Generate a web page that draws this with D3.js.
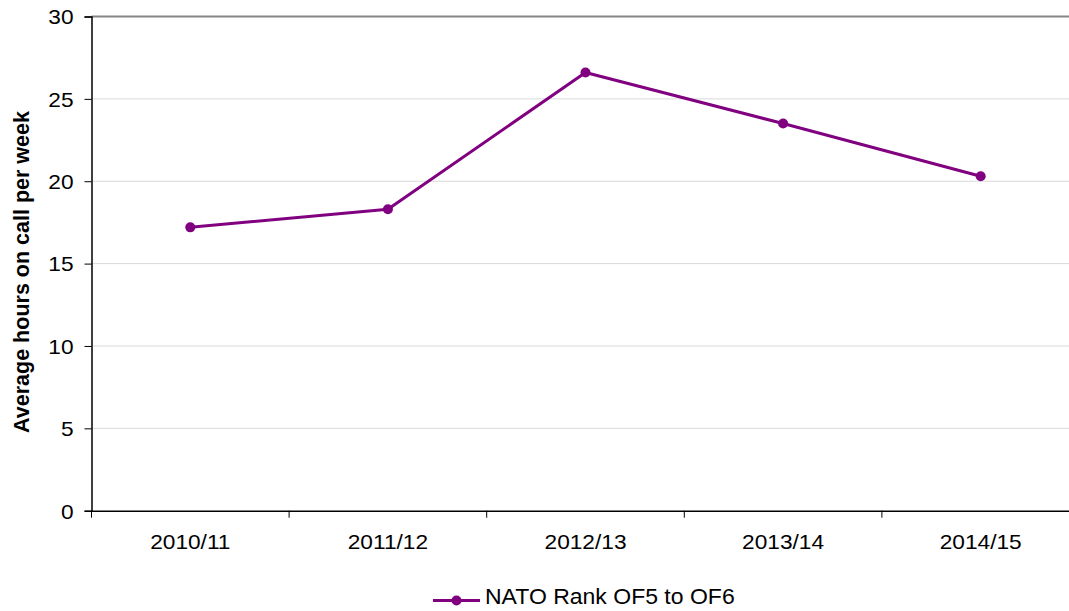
<!DOCTYPE html>
<html>
<head>
<meta charset="utf-8">
<script src="https://cdn.jsdelivr.net/npm/d3@7"></script>
<style>
  html, body { margin: 0; padding: 0; background: #fff; }
  svg { display: block; font-family: "Liberation Sans", Arial, sans-serif; }
</style>
</head>
<body>
<svg id="chart" width="1069" height="611"></svg>
<script>
// Average hours on call per week, NATO rank OF5 to OF6
const years = ["2010/11", "2011/12", "2012/13", "2013/14", "2014/15"];
const hours = [17.2, 18.3, 26.6, 23.5, 20.3];
const yTicks = [0, 5, 10, 15, 20, 25, 30];
const seriesName = "NATO Rank OF5 to OF6";
const yTitle = "Average hours on call per week";

const svg = d3.select("#chart");
const W = 1069;
const plotLeft = 91.5, plotTop = 16.5, plotBottom = 510.7, plotRight = 1079.5;
const purple = "#800080";
const widen = 1.08; // horizontal text stretch

// stretch a text element horizontally while keeping its anchor
function stretch(sel) {
  sel.each(function () {
    const len = this.getComputedTextLength();
    d3.select(this)
      .attr("textLength", len * widen)
      .attr("lengthAdjust", "spacingAndGlyphs");
  });
}

const x = d3.scaleBand().domain(years).range([plotLeft, plotRight]).padding(0);
const y = d3.scaleLinear().domain([0, 30]).range([plotBottom, plotTop]);

// horizontal gridlines
svg.append("g").selectAll("line")
  .data(yTicks.filter(t => t > 0))
  .join("line")
  .attr("x1", plotLeft).attr("x2", W)
  .attr("y1", d => y(d)).attr("y2", d => y(d))
  .attr("stroke", d => d === 30 ? "#868686" : "#d9d9d9")
  .attr("stroke-width", d => d === 30 ? 2 : 1);

// y axis
const yAxis = svg.append("g")
  .attr("transform", `translate(${plotLeft},0)`)
  .call(d3.axisLeft(y).tickValues(yTicks).tickSize(7).tickPadding(11).tickFormat(d3.format("d")));
yAxis.select(".domain").attr("stroke", "#000").attr("stroke-width", 1.5);
yAxis.selectAll(".tick line").attr("stroke", "#000");
yAxis.selectAll(".tick text")
  .attr("font-size", 21).attr("fill", "#000")
  .attr("font-family", "Liberation Sans, Arial, sans-serif")
  .attr("dy", "0.35em")
  .call(stretch);

// x axis with ticks at category boundaries
const xAxis = svg.append("g")
  .attr("transform", `translate(0,${plotBottom})`)
  .call(d3.axisBottom(x).tickSize(0).tickPadding(23));
xAxis.select(".domain").attr("stroke", "#000").attr("stroke-width", 1.5);
xAxis.selectAll(".tick text")
  .attr("font-size", 21).attr("fill", "#000")
  .attr("font-family", "Liberation Sans, Arial, sans-serif")
  .call(stretch);
const bounds = years.map(d => x(d)).concat([plotRight]);
xAxis.selectAll(".bound")
  .data(bounds)
  .join("line")
  .attr("class", "bound")
  .attr("x1", d => d).attr("x2", d => d)
  .attr("y1", 0).attr("y2", 7)
  .attr("stroke", "#000");

// y axis title
svg.append("text")
  .attr("transform", `translate(29,272) rotate(-90)`)
  .attr("text-anchor", "middle")
  .attr("font-size", 21.5)
  .attr("font-weight", "bold")
  .attr("fill", "#000")
  .text(yTitle);

// series line and markers
const cx = d => x(d) + x.bandwidth() / 2;
const line = d3.line()
  .x((d, i) => cx(years[i]))
  .y(d => y(d));
svg.append("path")
  .datum(hours)
  .attr("d", line)
  .attr("fill", "none")
  .attr("stroke", purple)
  .attr("stroke-width", 3)
  .attr("stroke-linejoin", "round");
svg.append("g").selectAll("circle")
  .data(hours)
  .join("circle")
  .attr("cx", (d, i) => cx(years[i]))
  .attr("cy", d => y(d))
  .attr("r", 5)
  .attr("fill", purple);

// legend
const lg = svg.append("g").attr("transform", "translate(433,600.5)");
lg.append("line").attr("x1", 0).attr("x2", 47).attr("y1", 0).attr("y2", 0)
  .attr("stroke", purple).attr("stroke-width", 3);
lg.append("circle").attr("cx", 23.5).attr("cy", 0).attr("r", 5).attr("fill", purple);
lg.append("text")
  .attr("x", 52).attr("y", 3.8)
  .attr("font-size", 21.3)
  .attr("fill", "#000")
  .text(seriesName)
  .call(stretch);
</script>
</body>
</html>
